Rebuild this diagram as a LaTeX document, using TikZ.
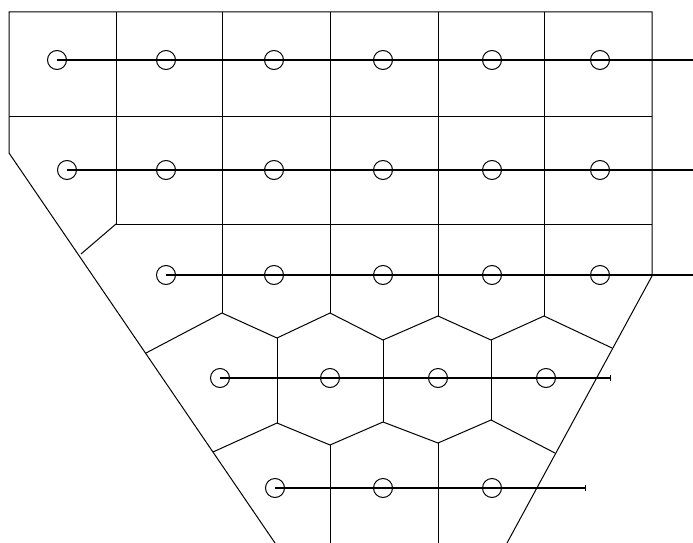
\documentclass[tikz,border=0pt]{standalone}
\begin{document}
\begin{tikzpicture}[x=1pt,y=-1pt,
  grid/.style={line width=1pt,black},
  rowline/.style={line width=1.5pt,black},
  site/.style={circle,draw,line width=1pt,minimum size=19pt,inner sep=0pt,fill=none}]
\useasboundingbox (0,0) rectangle (693,543);
% outer boundary
\draw[grid] (9,153) -- (9,12) -- (652,12) -- (652,276) -- (507,543);
\draw[grid] (9,153) -- (275,543);
% horizontal grid lines
\draw[grid] (9,116) -- (652,116);
\draw[grid] (116,224) -- (652,224);
\draw[grid] (116,224) -- (81,254);
% vertical grid lines
\draw[grid] (116,12) -- (116,224);
\draw[grid] (222,12) -- (222,313);
\draw[grid] (330,12) -- (330,313);
\draw[grid] (438,12) -- (438,316);
\draw[grid] (544,12) -- (544,316);
% upper zigzag
\draw[grid] (146,353) -- (222,313) -- (277,338) -- (330,313) -- (383,340) -- (438,316) -- (491,340) -- (544,316) -- (612,348);
% middle verticals
\draw[grid] (277,338) -- (277,423);
\draw[grid] (383,340) -- (383,422);
\draw[grid] (491,340) -- (491,420);
% lower zigzag
\draw[grid] (213,452) -- (277,423) -- (330,445) -- (383,422) -- (438,443) -- (491,420) -- (555,453);
% bottom verticals
\draw[grid] (330,445) -- (330,543);
\draw[grid] (438,443) -- (438,543);
% sites
\foreach \x [count=\i] in {57,166,274,383,492,600} \node[site] (a\i) at (\x,60) {};
\foreach \x [count=\i] in {67,166,274,383,492,600} \node[site] (b\i) at (\x,170) {};
\foreach \x [count=\i] in {166,274,383,492,600} \node[site] (c\i) at (\x,275) {};
\foreach \x [count=\i] in {220,330,438,546} \node[site] (d\i) at (\x,378) {};
\foreach \x [count=\i] in {275,383,492} \node[site] (e\i) at (\x,488) {};
\coordinate (ae) at (693,60);
\coordinate (be) at (693,170);
\coordinate (ce) at (693,275);
\coordinate (de) at (610,378);
\coordinate (ee) at (585,488);
\draw[rowline] (a1.center) -- (ae);
\draw[rowline] (b1.center) -- (be);
\draw[rowline] (c1.center) -- (ce);
\draw[rowline] (d1.center) -- (de);
\draw[rowline] (e1.center) -- (ee);
\draw[grid] ([yshift=-3pt]de) -- ([yshift=3pt]de);
\draw[grid] ([yshift=-3pt]ee) -- ([yshift=3pt]ee);
\end{tikzpicture}
\end{document}
